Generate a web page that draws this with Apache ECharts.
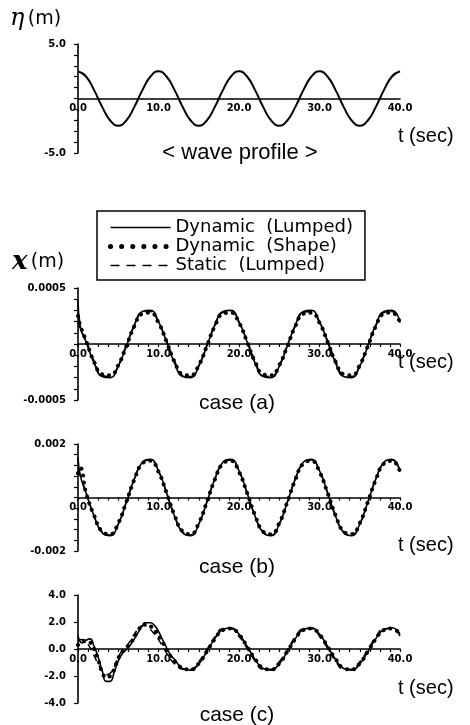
<!DOCTYPE html>
<html>
<head>
<meta charset="utf-8">
<script src="https://cdn.jsdelivr.net/npm/echarts@6/dist/echarts.min.js"></script>
<style>
html, body { margin: 0; padding: 0; background: #fff; }
#main { width: 470px; height: 725px; }
</style>
</head>
<body>
<div id="main"></div>
<script>
// time axes (sec)
var tWave = [0,1,2,3,4,5,6,7,8,9,10,11,12,13,14,15,16,17,18,19,20,21,22,23,24,25,26,27,28,29,30,31,32,33,34,35,36,37,38,39,40];
var tAB = [0,0.3,1,2,3,4,5,6,7,8,9,10,11,12,13,14,15,16,17,18,19,20,21,22,23,24,25,26,27,28,29,30,31,32,33,34,35,36,37,38,39,40];
var tC = [0,0.5,1,1.5,2,2.5,3,3.5,4,4.5,5,5.5,6,6.5,7,7.5,8,8.5,9,9.5,10,10.5,11,11.5,12,
  13,14,15,16,17,18,19,20,21,22,23,24,25,26,27,28,29,30,31,32,33,34,35,36,37,38,39,40];

// wave profile eta (m)
var eta = [2.5,2.02,0.77,-0.77,-2.02,-2.5,-2.02,-0.77,0.77,2.02,
  2.5,2.02,0.77,-0.77,-2.02,-2.5,-2.02,-0.77,0.77,2.02,
  2.5,2.02,0.77,-0.77,-2.02,-2.5,-2.02,-0.77,0.77,2.02,
  2.5,2.02,0.77,-0.77,-2.02,-2.5,-2.02,-0.77,0.77,2.02,
  2.5];

// case (a)
var dynLumpedA = [0.0004,0.00015,
  0.00002,-0.00017,-0.00029,-0.0003,-0.0002,-0.00002,0.00017,0.00029,0.0003,
  0.0002,0.00002,-0.00017,-0.00029,-0.0003,-0.0002,-0.00002,0.00017,0.00029,0.0003,
  0.0002,0.00002,-0.00017,-0.00029,-0.0003,-0.0002,-0.00002,0.00017,0.00029,0.0003,
  0.0002,0.00002,-0.00017,-0.00029,-0.0003,-0.0002,-0.00002,0.00017,0.00029,0.0003,
  0.0002];
var dynShapeA = [0.00025,0.00016,
  0.00003,-0.00016,-0.00027,-0.00028,-0.00019,-0.00002,0.00016,0.00027,0.00028,
  0.00019,0.00002,-0.00016,-0.00027,-0.00028,-0.00019,-0.00002,0.00016,0.00027,0.00028,
  0.00019,0.00002,-0.00016,-0.00027,-0.00028,-0.00019,-0.00002,0.00016,0.00027,0.00028,
  0.00019,0.00002,-0.00016,-0.00027,-0.00028,-0.00019,-0.00002,0.00016,0.00027,0.00028,
  0.00019];
var staticA = [0.0002,0.00013,
  0.00003,-0.00015,-0.00028,-0.00029,-0.00019,-0.00001,0.00016,0.00028,0.00029,
  0.00019,0.00003,-0.00015,-0.00028,-0.00029,-0.00019,-0.00001,0.00016,0.00028,0.00029,
  0.00019,0.00003,-0.00015,-0.00028,-0.00029,-0.00019,-0.00001,0.00016,0.00028,0.00029,
  0.00019,0.00003,-0.00015,-0.00028,-0.00029,-0.00019,-0.00001,0.00016,0.00028,0.00029,
  0.00019];

// case (b)
var dynLumpedB = [0.0015,0.0008,
  0.00018,-0.0007,-0.00132,-0.00143,-0.001,-0.00018,0.0007,0.00132,0.00143,
  0.001,0.00018,-0.0007,-0.00132,-0.00143,-0.001,-0.00018,0.0007,0.00132,0.00143,
  0.001,0.00018,-0.0007,-0.00132,-0.00143,-0.001,-0.00018,0.0007,0.00132,0.00143,
  0.001,0.00018,-0.0007,-0.00132,-0.00143,-0.001,-0.00018,0.0007,0.00132,0.00143,
  0.001];
var dynShapeB = [0.0009,0.0011,
  0.00017,-0.00067,-0.00127,-0.00137,-0.00096,-0.00017,0.00067,0.00127,0.00137,
  0.00096,0.00017,-0.00067,-0.00127,-0.00137,-0.00096,-0.00017,0.00067,0.00127,0.00137,
  0.00096,0.00017,-0.00067,-0.00127,-0.00137,-0.00096,-0.00017,0.00067,0.00127,0.00137,
  0.00096,0.00017,-0.00067,-0.00127,-0.00137,-0.00096,-0.00017,0.00067,0.00127,0.00137,
  0.00096];
var staticB = [0.001,0.0008,
  0.00018,-0.00069,-0.00129,-0.0014,-0.00098,-0.00018,0.00069,0.00129,0.0014,
  0.00098,0.00018,-0.00069,-0.00129,-0.0014,-0.00098,-0.00018,0.00069,0.00129,0.0014,
  0.00098,0.00018,-0.00069,-0.00129,-0.0014,-0.00098,-0.00018,0.00069,0.00129,0.0014,
  0.00098,0.00018,-0.00069,-0.00129,-0.0014,-0.00098,-0.00018,0.00069,0.00129,0.0014,
  0.00098];

// case (c)
var dynLumpedC = [1.0,0.45,0.65,0.75,0.2,-0.6,-1.6,-2.4,-2.4,-1.7,-0.9,-0.35,-0.05,0.3,0.75,1.25,1.7,1.95,1.95,1.75,1.3,0.7,0.1,-0.45,-0.77,
  -1.45,-1.57,-1.1,-0.2,0.77,1.45,1.57,
  1.1,0.2,-0.77,-1.45,-1.57,-1.1,-0.2,0.77,1.45,1.57,
  1.1,0.2,-0.77,-1.45,-1.57,-1.1,-0.2,0.77,1.45,1.57,
  1.1];
var dynShapeC = [0.3,0.5,0.6,0.5,0.0,-0.8,-1.7,-2.1,-2.0,-1.5,-0.7,-0.2,0.1,0.4,0.9,1.4,1.75,1.85,1.7,1.4,1.0,0.5,-0.05,-0.55,-0.9,
  -1.41,-1.52,-1.07,-0.19,0.75,1.41,1.52,
  1.07,0.19,-0.75,-1.41,-1.52,-1.07,-0.19,0.75,1.41,1.52,
  1.07,0.19,-0.75,-1.41,-1.52,-1.07,-0.19,0.75,1.41,1.52,
  1.07];
var staticC = [0.6,0.7,0.5,0.1,-0.5,-1.1,-1.6,-1.9,-1.8,-1.3,-0.6,-0.1,0.2,0.6,1.1,1.5,1.75,1.7,1.45,1.1,0.7,0.2,-0.3,-0.75,-1.1,
  -1.5,-1.5,-0.95,-0.05,0.9,1.5,1.5,
  0.95,0.05,-0.9,-1.5,-1.5,-0.95,-0.05,0.9,1.5,1.5,
  0.95,0.05,-0.9,-1.5,-1.5,-0.95,-0.05,0.9,1.5,1.5,
  0.95];

// y axis ranges per panel
var yMin = [-5, -0.0005, -0.002, -4];
var yMax = [5, 0.0005, 0.002, 4];
var yStep = [1, 0.0001, 0.0004, 2];
var yEndLabels = [['5.0', '-5.0'], ['0.0005', '-0.0005'], ['0.002', '-0.002'], null];

var NAME_DL = 'Dynamic  (Lumped)';
var NAME_DS = 'Dynamic  (Shape)';
var NAME_SL = 'Static  (Lumped)';

function pairs(t, v) {
  var out = [];
  for (var i = 0; i < t.length; i++) out.push([t[i], v[i]]);
  return out;
}

var solidStyle = { color: '#000', width: 1.6, type: 'solid' };
var dotStyle = { color: '#000', width: 4, type: [0.1, 7], cap: 'round' };
var dashStyle = { color: '#000', width: 1.5, type: [7, 5] };

function lineSeries(name, idx, data, style) {
  return {
    name: name, type: 'line', xAxisIndex: idx, yAxisIndex: idx,
    data: data, smooth: true, symbol: 'none', showSymbol: false,
    lineStyle: style, itemStyle: { color: '#000' }, animation: false
  };
}

var grids = [
  { left: 78, top: 44, width: 322, height: 109 },
  { left: 78, top: 288, width: 322, height: 112 },
  { left: 78, top: 444, width: 322, height: 107 },
  { left: 78, top: 595, width: 322, height: 108 }
];

var xAxes = [], yAxes = [];
for (var i = 0; i < 4; i++) {
  xAxes.push({
    gridIndex: i, type: 'value', min: 0, max: 40, interval: 10,
    position: 'bottom',
    offset: -grids[i].height / 2,   // axis sits on y = 0 (ranges are symmetric)
    axisLine: { onZero: false, lineStyle: { color: '#000', width: 1.6 } },
    axisTick: { show: i > 0, length: 3, lineStyle: { color: '#000', width: 1.2 } },
    minorTick: { show: i > 0, splitNumber: 8, length: 3, lineStyle: { color: '#000', width: 1.2 } },
    axisLabel: {
      color: '#000', fontFamily: 'DejaVu Sans', fontWeight: 'bold', fontSize: 10, margin: 5,
      formatter: function (v) { return v.toFixed(1); }
    },
    splitLine: { show: false }
  });
  (function (k) {
    yAxes.push({
      gridIndex: k, type: 'value', min: yMin[k], max: yMax[k], interval: yStep[k],
      axisLine: { show: true, onZero: false, lineStyle: { color: '#000', width: 1.6 } },
      axisTick: { show: true, length: 4, lineStyle: { color: '#000', width: 1.2 } },
      axisLabel: {
        color: '#000', fontFamily: 'DejaVu Sans', fontWeight: 'bold', fontSize: 10, margin: 12,
        formatter: function (v) {
          if (!yEndLabels[k]) return v.toFixed(1);
          if (Math.abs(v - yMax[k]) < 1e-9) return yEndLabels[k][0];
          if (Math.abs(v - yMin[k]) < 1e-9) return yEndLabels[k][1];
          return '';
        }
      },
      splitLine: { show: false }
    });
  })(i);
}

var series = [
  lineSeries('wave', 0, pairs(tWave, eta), { color: '#000', width: 2 }),
  lineSeries(NAME_DL, 1, pairs(tAB, dynLumpedA), solidStyle),
  lineSeries(NAME_DS, 1, pairs(tAB, dynShapeA), dotStyle),
  lineSeries(NAME_SL, 1, pairs(tAB, staticA), dashStyle),
  lineSeries(NAME_DL, 2, pairs(tAB, dynLumpedB), solidStyle),
  lineSeries(NAME_DS, 2, pairs(tAB, dynShapeB), dotStyle),
  lineSeries(NAME_SL, 2, pairs(tAB, staticB), dashStyle),
  lineSeries(NAME_DL, 3, pairs(tC, dynLumpedC), solidStyle),
  lineSeries(NAME_DS, 3, pairs(tC, dynShapeC), dotStyle),
  lineSeries(NAME_SL, 3, pairs(tC, staticC), dashStyle)
];

var labelFont = 'Liberation Sans';
function txt(x, y, s, size, align) {
  return {
    type: 'text', x: x, y: y, silent: true,
    style: { text: s, fill: '#000', fontFamily: labelFont, fontSize: size, align: align || 'left', verticalAlign: 'middle' }
  };
}

var graphics = [
  {
    type: 'text', x: 10, y: 19, silent: true,
    style: {
      text: '{g|η} {m|(m)}', verticalAlign: 'middle',
      rich: {
        g: { fontFamily: 'DejaVu Serif', fontStyle: 'italic', fontSize: 24, fill: '#000' },
        m: { fontFamily: 'DejaVu Sans', fontSize: 19, fill: '#000' }
      }
    }
  },
  {
    type: 'text', x: 12, y: 262, silent: true,
    style: {
      text: '{g|x} {m|(m)}', verticalAlign: 'middle',
      rich: {
        g: { fontFamily: 'DejaVu Serif', fontStyle: 'italic', fontWeight: 'bold', fontSize: 26, fill: '#000' },
        m: { fontFamily: 'DejaVu Sans', fontSize: 19, fill: '#000' }
      }
    }
  },
  txt(398, 136, 't (sec)', 20),
  txt(240, 153, '< wave profile >', 22, 'center'),
  txt(398, 362, 't (sec)', 20),
  txt(237, 403, 'case (a)', 21, 'center'),
  txt(398, 545, 't (sec)', 20),
  txt(237, 567, 'case (b)', 21, 'center'),
  txt(398, 688, 't (sec)', 20),
  txt(237, 715, 'case (c)', 21, 'center')
];

var chart = echarts.init(document.getElementById('main'), null, { renderer: 'canvas' });
chart.setOption({
  backgroundColor: '#fff',
  animation: false,
  grid: grids,
  xAxis: xAxes,
  yAxis: yAxes,
  legend: {
    data: [
      { name: NAME_DL, lineStyle: { color: '#000', width: 1.4, type: 'solid' } },
      { name: NAME_DS, lineStyle: { color: '#000', width: 5, type: [0.1, 11], cap: 'round' } },
      { name: NAME_SL, lineStyle: { color: '#000', width: 1.4, type: [9, 7] } }
    ],
    orient: 'vertical',
    left: 97, top: 211,
    padding: [7, 12, 5, 11],
    itemGap: 0,
    itemWidth: 60, itemHeight: 16,
    itemStyle: { opacity: 0 },
    borderColor: '#000', borderWidth: 1.5, borderRadius: 0,
    selectedMode: false,
    textStyle: { color: '#000', fontFamily: 'DejaVu Sans', fontSize: 18, lineHeight: 19 }
  },
  graphic: graphics,
  series: series
});
</script>
</body>
</html>
